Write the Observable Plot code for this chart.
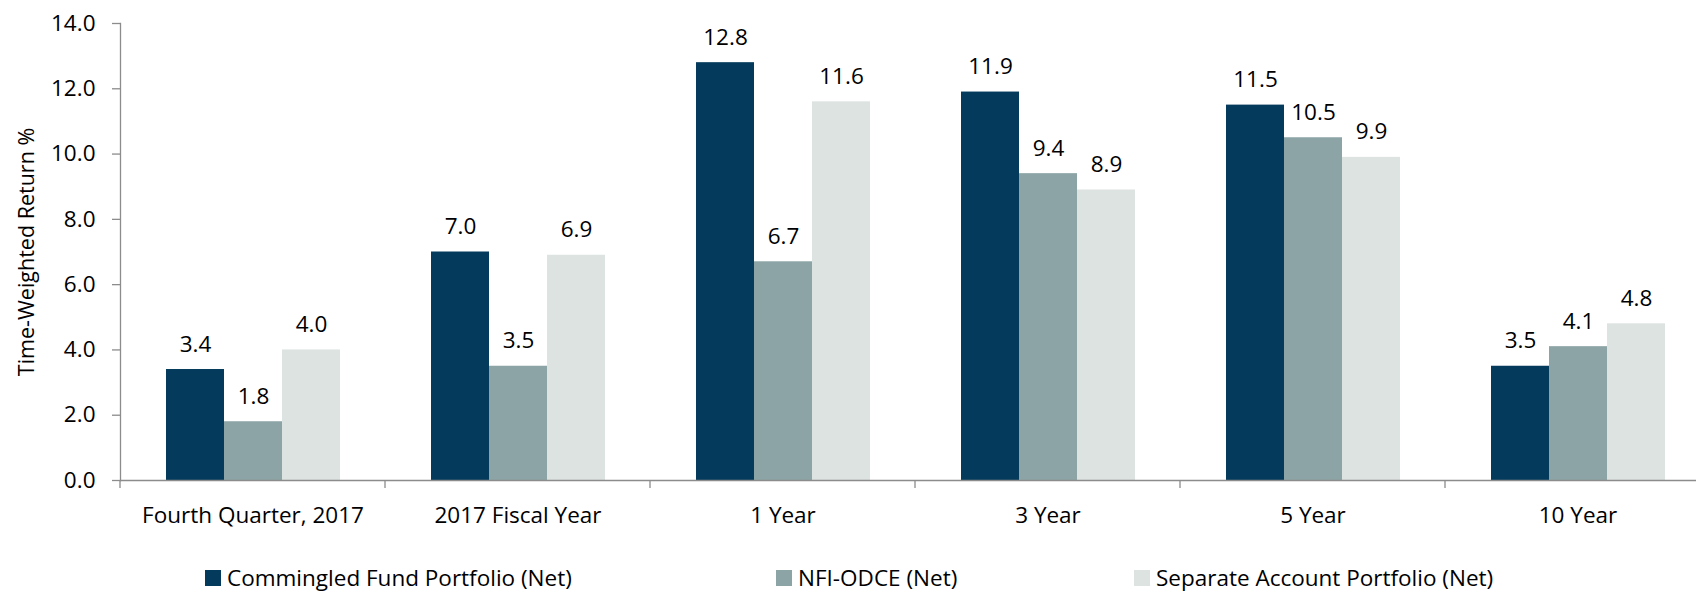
<!DOCTYPE html>
<html>
<head>
<meta charset="utf-8">
<script src="https://cdn.jsdelivr.net/npm/d3@7"></script>
<script src="https://cdn.jsdelivr.net/npm/@observablehq/plot@0.6"></script>
<style>
  body { margin: 0; background: #fff; font-family: "Open Sans", sans-serif; color: #000; }
  #legend { position: relative; width: 1696px; height: 40px; font-size: 22.5px; line-height: 1.1; }
  #legend .item { position: absolute; top: 13px; height: 26px; display: flex; align-items: center; white-space: nowrap; }
  #legend .sw { width: 16px; height: 16px; margin-right: 6px; }
</style>
</head>
<body>
<div id="chart"></div>
<div id="legend"></div>
<script>
// Time-weighted returns (%) by period
const categories = ["Fourth Quarter, 2017", "2017 Fiscal Year", "1 Year", "3 Year", "5 Year", "10 Year"];
const seriesNames = ["Commingled Fund Portfolio (Net)", "NFI-ODCE (Net)", "Separate Account Portfolio (Net)"];
const commingled = [3.4, 7.0, 12.8, 11.9, 11.5, 3.5];
const nfiOdce = [1.8, 3.5, 6.7, 9.4, 10.5, 4.1];
const separate = [4.0, 6.9, 11.6, 8.9, 9.9, 4.8];
const yTicks = [0, 2, 4, 6, 8, 10, 12, 14];
const colors = ["#043a5b", "#8ca4a5", "#dde3e0"];
const legendLeft = [205, 776, 1134];

const seriesValues = [commingled, nfiOdce, separate];
const rows = categories.flatMap((category, i) =>
  seriesNames.map((series, j) => ({category, series, value: seriesValues[j][i]}))
);

const axisGrey = "#8c8c8c";

const chart = Plot.plot({
  width: 1696,
  height: 552,
  marginLeft: 119,
  marginRight: -14,
  marginTop: 23,
  marginBottom: 72,
  style: {fontFamily: "Open Sans", fontSize: "22.5px", color: "#000", background: "#fff"},
  fx: {domain: categories, padding: 0, label: null},
  x: {domain: seriesNames, paddingInner: 0, paddingOuter: 0.755, axis: null},
  y: {domain: [0, 14], axis: null},
  color: {domain: seriesNames, range: colors},
  marks: [
    Plot.barY(rows, {fx: "category", x: "series", y: "value", fill: "series"}),
    Plot.ruleY([0], {stroke: axisGrey, strokeWidth: 1.3}),
    Plot.frame({anchor: "left", facetAnchor: "left", stroke: axisGrey, strokeWidth: 1.3}),
    Plot.text(rows, {
      fx: "category", x: "series", y: "value",
      text: d => d.value.toFixed(1),
      lineAnchor: "bottom", dy: -18, fill: "#000"
    }),
    Plot.axisY({
      ticks: yTicks, tickFormat: d => d.toFixed(1),
      tickSize: 8, tickPadding: 17, stroke: axisGrey, strokeWidth: 1.3,
      label: null
    }),
    Plot.axisY({
      ticks: [], tickSize: 0, fontSize: "21.5px", dy: -12,
      label: "Time-Weighted Return %", labelArrow: "none", labelAnchor: "center", labelOffset: 102
    }),
    Plot.axisFx({anchor: "bottom", tickSize: 0, tickPadding: 27, label: null})
  ]
});

// Category boundary ticks below the baseline
const fx = chart.scale("fx");
const y0 = chart.scale("y").apply(0);
d3.select(chart).append("g")
  .attr("stroke", axisGrey).attr("stroke-width", 1.3)
  .selectAll("line").data(categories).join("line")
  .attr("x1", c => fx.apply(c)).attr("x2", c => fx.apply(c))
  .attr("y1", y0).attr("y2", y0 + 8);

document.getElementById("chart").append(chart);

// Legend
const legend = d3.select("#legend");
seriesNames.forEach((name, i) => {
  const item = legend.append("div").attr("class", "item").style("left", legendLeft[i] + "px");
  item.append("div").attr("class", "sw").style("background", colors[i]);
  item.append("span").text(name);
});
</script>
</body>
</html>
